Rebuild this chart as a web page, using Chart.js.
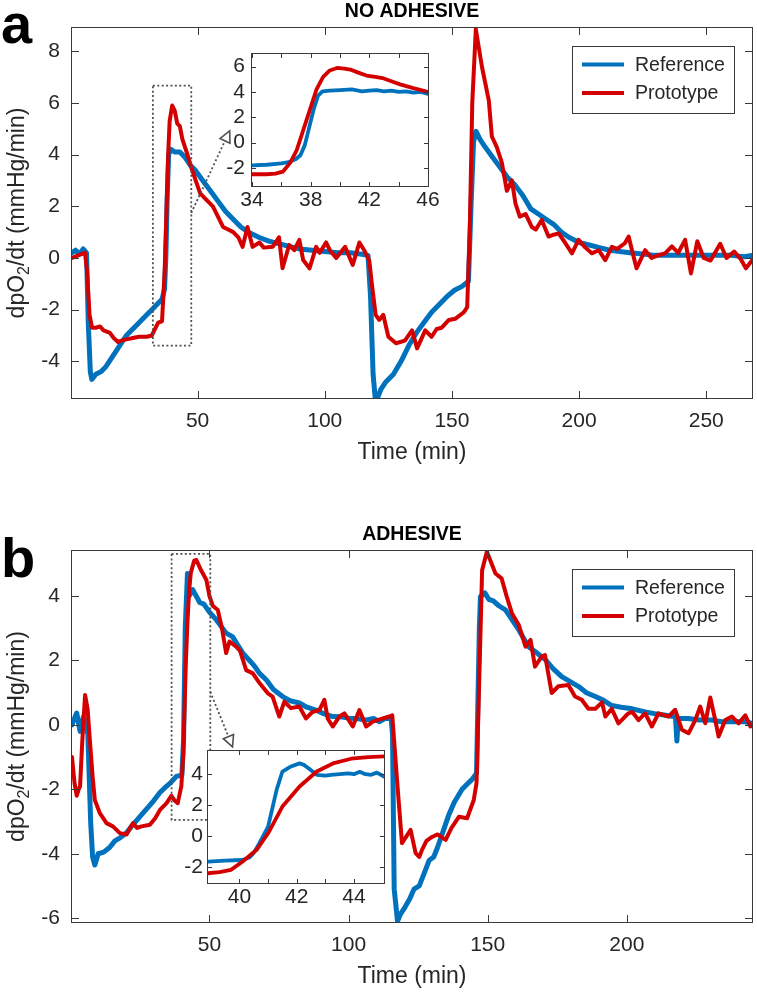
<!DOCTYPE html>
<html><head><meta charset="utf-8">
<script src="https://cdn.jsdelivr.net/npm/chart.js@4/dist/chart.umd.min.js"></script>
<style>
html,body{margin:0;padding:0;background:#fff;}
#wrap{position:relative;width:757px;height:994px;overflow:hidden;background:#fff;}
canvas{position:absolute;}
</style></head><body>
<div id="wrap">
<canvas id="ca" width="757" height="470" style="left:0;top:0;width:757px;height:470px"></canvas>
<canvas id="ia" width="240" height="180" style="left:200px;top:38px;width:240px;height:180px"></canvas>
<canvas id="cb" width="757" height="524" style="left:0;top:470px;width:757px;height:524px"></canvas>
<canvas id="ib" width="245" height="180" style="left:150px;top:735px;width:245px;height:180px"></canvas>
</div>
<script>
// ---------------- text ----------------
const SERIES_NAMES = ['Reference', 'Prototype'];
const PANEL_LETTERS = ['a', 'b'];
const TITLE_A = 'NO ADHESIVE';
const TITLE_B = 'ADHESIVE';
const X_TITLE = 'Time (min)';
const Y_TITLE_PARTS = ['dpO', '2', '/dt (mmHg/min)'];

// ---------------- ticks ----------------
const A_XTICKS = [50, 100, 150, 200, 250];
const A_YTICKS = [-4, -2, 0, 2, 4, 6, 8];
const B_XTICKS = [50, 100, 150, 200];
const B_YTICKS = [-6, -4, -2, 0, 2, 4];
const IA_XTICKS = [34, 36, 38, 40, 42, 44, 46];
const IA_XLABELS = [34, 38, 42, 46];
const IA_YTICKS = [-2, 0, 2, 4, 6];
const IB_XTICKS = [40, 41, 42, 43, 44];
const IB_XLABELS = [40, 42, 44];
const IB_YTICKS = [-2, 0, 2, 4];

// ---------------- panel a data [time (min), dpO2/dt] ----------------
const A_REF = [[0.6,0.2],[2,0.3],[3.5,0.15],[5,0.35],[6.3,0.2],[7,-2.5],[7.8,-4.4],[8.4,-4.7],[10,-4.5],[12,-4.4],
[14,-4.2],[16,-3.9],[18,-3.6],[20,-3.3],[22,-3.0],[24,-2.8],[26,-2.6],[28,-2.4],[30,-2.2],[32,-2.0],
[34,-1.8],[36,-1.6],[37,-1.2],[37.5,0.0],[38,2.2],[38.6,4.0],[39.5,4.2],[41,4.1],[43,4.1],[45,3.9],
[47,3.6],[49,3.4],[52,3.0],[55,2.6],[58,2.2],[61,1.8],[64,1.5],[67,1.2],[70,1.0],[74,0.8],
[78,0.65],[82,0.55],[86,0.45],[90,0.35],[95,0.3],[100,0.25],[105,0.2],[110,0.2],[114,0.15],[117,0.1],
[118,-1.5],[119,-4.5],[120,-5.6],[122,-5.1],[124,-4.8],[127,-4.5],[130,-4.0],[133,-3.4],[136,-2.9],[139,-2.5],
[142,-2.1],[145,-1.8],[148,-1.5],[151,-1.25],[154,-1.1],[156.5,-0.9],[157.5,2.0],[158.5,4.5],[159.5,4.9],[161,4.6],
[163,4.3],[166,3.9],[169,3.5],[172,3.1],[175,2.8],[178,2.4],[181,1.9],[184,1.7],[187,1.5],[190,1.3],
[193,1.0],[196,0.8],[200,0.6],[204,0.5],[208,0.4],[212,0.3],[216,0.25],[220,0.2],[225,0.15],[230,0.1],
[235,0.1],[240,0.1],[245,0.1],[250,0.1],[255,0.1],[260,0.1],[265,0.05],[268,0.1]];

const A_PRO = [[0.6,0.0],[3,0.1],[5.7,0.2],[6.5,-0.5],[7.5,-2.2],[8.5,-2.7],[10,-2.7],[11.6,-2.65],[13,-2.8],[15.5,-2.9],
[17,-3.1],[18.7,-3.25],[20,-3.2],[22,-3.15],[24.5,-3.1],[27,-3.05],[30,-3.05],[32,-3.0],[33.5,-2.7],[34.5,-2.5],
[36,-2.45],[37,-0.6],[38,2.6],[38.5,4.2],[39,5.3],[40,5.9],[41,5.7],[42,5.2],[43,5.1],[44,4.6],
[46,4.0],[47.5,3.5],[49.6,2.9],[51,2.5],[53,2.3],[56,2.0],[58,1.6],[60,1.2],[62,1.1],[64,1.0],
[66,0.8],[67.7,0.43],[69.6,1.2],[71.6,0.43],[74.3,0.6],[76,0.4],[79.5,0.43],[82,0.8],[83.4,-0.4],[86,0.5],
[88,0.3],[90,0.7],[91.5,-0.08],[94,-0.4],[96.6,0.43],[98,0.2],[100.5,0.6],[102,0.3],[104.5,0.0],[108,0.43],
[111,-0.27],[113.6,0.6],[115.5,0.3],[117.5,-0.1],[118.5,-1.0],[120,-2.2],[121.4,-2.4],[123,-2.2],[125,-3.05],[128,-3.3],
[131.5,-3.2],[134.3,-2.8],[136.3,-3.5],[139.5,-2.8],[142,-3.05],[144,-2.75],[146,-2.7],[148.8,-2.4],[151.4,-2.35],[154.7,-2.1],
[156,-1.9],[157,1.0],[158,6.0],[159.4,8.85],[161.8,7.4],[164.5,6.1],[165.7,4.7],[167.6,4.3],[169.6,3.7],[171.6,2.6],
[173.6,3.0],[175,2.1],[176.7,1.6],[179,1.7],[181.4,1.2],[183,1.1],[185.3,1.47],[188,0.83],[190,0.9],[192,0.95],
[194.6,0.57],[197.2,0.18],[199.8,0.7],[202.5,0.4],[205,0.18],[207.7,0.3],[210.3,-0.08],[212.9,0.43],[215,0.35],[218,0.57],
[219.5,0.83],[220.8,0.3],[222.6,-0.4],[226,0.3],[228.5,0.0],[231,0.1],[233.8,0.18],[236.5,0.45],[239,0.2],[241.7,0.7],
[244,-0.6],[246.5,0.65],[249,0.0],[251.7,-0.1],[255.5,0.55],[258,0.0],[261,0.25],[263.6,-0.05],[265.6,-0.4],[268,-0.1]];

// inset a (zoom 34-46 min)
const IA_REF = [[34,-1.8],[35,-1.75],[36,-1.65],[36.5,-1.55],[37,-1.3],[37.3,-1.0],[37.6,-0.2],[37.9,1.2],[38.2,2.6],[38.5,3.7],
[38.8,4.05],[39.3,4.1],[40,4.15],[40.8,4.2],[41.5,4.05],[42,4.1],[42.5,4.15],[43,4.05],[43.5,4.1],[44,4.0],
[44.5,4.05],[45,3.95],[45.5,4.0],[46,3.85]];
const IA_PRO = [[34,-2.5],[35,-2.5],[35.6,-2.45],[36.1,-2.3],[36.6,-1.6],[37.05,-0.6],[37.5,1.0],[37.95,2.6],[38.4,4.2],[38.85,5.2],
[39.3,5.7],[39.8,5.9],[40.3,5.85],[40.7,5.77],[41.2,5.55],[41.8,5.3],[42.4,5.2],[42.9,5.1],[43.5,4.85],[44.1,4.6],
[45,4.3],[46,4.0]];

// ---------------- panel b data ----------------
const B_REF = [[0.6,0.0],[1.5,0.2],[2.3,0.37],[3.5,-0.2],[4.7,0.25],[5.5,0.1],[6.3,-0.3],[7.3,-3.0],[8,-4.1],[8.8,-4.35],
[10,-4.0],[12,-3.95],[14.2,-3.8],[16,-3.6],[18,-3.5],[20.2,-3.35],[22,-3.15],[24,-2.95],[26.1,-2.74],[28,-2.55],
[30,-2.35],[32.2,-2.1],[34,-1.95],[36,-1.8],[38.1,-1.6],[40.1,-1.56],[40.7,-0.45],[41.3,3.0],[42.1,4.7],[42.7,4.0],
[44,4.2],[46.5,3.8],[48,3.75],[50,3.5],[52.5,3.26],[56,2.85],[58.3,2.74],[60,2.5],[62,2.23],[64.4,2.0],
[66,1.85],[68,1.6],[70.4,1.4],[73,1.1],[76.3,0.88],[79,0.75],[82.3,0.68],[85,0.55],[88.3,0.46],[91,0.35],
[94.3,0.26],[97,0.25],[100.2,0.21],[103,0.2],[106.2,0.15],[109,0.2],[111,0.1],[113.4,0.21],[115.3,0.2],[115.8,-0.3],
[116.4,-5.1],[117.6,-6.1],[118.5,-5.9],[120,-5.7],[122,-5.4],[123.5,-5.1],[125.4,-5.0],[127.2,-4.6],[129,-4.2],[130.6,-4.1],
[132,-3.8],[134,-3.3],[136,-2.8],[138,-2.4],[140.8,-2.0],[142.5,-1.85],[144.3,-1.7],[146,-1.5],[147,3.0],[147.4,3.98],
[149,4.1],[150.4,3.9],[152,3.85],[154,3.7],[156.4,3.57],[158.5,3.3],[161.2,2.95],[164.7,2.43],[167.5,2.25],[170.8,2.02],
[173.5,1.75],[176.6,1.5],[179.5,1.35],[182.7,1.19],[185.5,1.0],[188.7,0.88],[191.5,0.77],[194.6,0.6],[198,0.55],[202,0.5],
[206.6,0.4],[210,0.35],[214,0.3],[217.5,0.25],[218,-0.5],[218.5,0.2],[222,0.2],[226,0.15],[230.5,0.15],[234,0.1],
[238,0.1],[242.4,0.1],[245,0.05]];

const B_PRO = [[0.6,-1.0],[1.5,-1.8],[2.3,-2.2],[3.0,-2.0],[3.5,-1.9],[4.3,-0.5],[5.3,0.93],[6.2,0.5],[7.1,-0.57],[8,-1.6],
[8.8,-2.33],[10.6,-2.74],[13,-3.05],[15.3,-3.15],[17.8,-3.36],[20.2,-3.4],[22.5,-3.05],[24,-3.2],[25.6,-3.15],[28.6,-3.1],
[30.5,-2.9],[32.2,-2.64],[34.6,-2.43],[36.3,-2.2],[37.5,-2.35],[38.6,-2.43],[39.9,-1.9],[40.6,-0.9],[41.5,1.9],[42.1,3.2],
[42.7,4.17],[43.3,4.72],[44.5,5.1],[45.3,5.12],[47,4.8],[48.9,4.5],[50,4.0],[51.2,3.7],[53,3.57],[54.5,3.0],
[56,2.23],[57.2,2.59],[59.6,2.43],[61,2.3],[63.2,1.7],[65.6,1.6],[68,1.3],[70.9,0.99],[72.7,0.88],[75.1,0.26],
[76.9,0.72],[79.3,0.52],[82.3,0.57],[84.7,0.2],[87,0.4],[89.5,0.46],[91.3,0.78],[92.5,0.2],[94.3,-0.05],[96.7,0.26],
[98.5,0.36],[101.5,-0.05],[103.9,0.46],[106.3,-0.05],[108.7,0.1],[112.3,0.2],[114.7,0.26],[115.7,0.3],[117.5,-1.8],[119.2,-3.67],
[120.5,-3.5],[122.3,-3.26],[124.1,-3.98],[125.4,-4.1],[126.4,-3.88],[128,-3.6],[130,-3.48],[132,-3.4],[134.9,-3.57],[137,-3.2],
[139.7,-2.85],[142.6,-2.9],[145,-2.33],[146,-1.8],[147,1.5],[148,4.8],[149.7,5.38],[151,5.1],[152.8,4.7],[155,4.55],
[156.8,4.0],[158.7,3.47],[161.2,3.1],[163.6,2.43],[165.4,2.64],[167,1.81],[169.4,2.12],[170.6,2.17],[173,0.99],[175.4,1.2],
[179,1.24],[181.4,0.88],[183.8,0.78],[186.2,0.5],[188.7,0.5],[191.1,0.7],[192.3,0.26],[194.6,0.5],[197,0.05],[199.4,0.26],
[200.6,0.36],[202,0.4],[204.2,0.15],[206.6,0.36],[209,-0.05],[211.4,0.36],[215,0.26],[217.4,0.47],[219.8,-0.15],[222.2,-0.26],
[224.6,0.15],[226.4,0.57],[228.2,0.05],[230,0.85],[231.8,0.15],[233,-0.36],[235.4,0.15],[237.8,0.26],[240.2,0.05],[242.6,0.3],
[244.4,-0.05],[245,0.0]];

// inset b (zoom ~39-45 min)
const IB_REF = [[38.9,-1.67],[39.5,-1.6],[40.1,-1.56],[40.35,-1.4],[40.5,-1.1],[40.7,-0.45],[41.0,0.6],[41.15,1.8],[41.3,3.0],[41.5,4.17],
[41.8,4.5],[42.1,4.7],[42.25,4.6],[42.4,4.4],[42.7,3.96],[43.0,3.9],[43.2,3.96],[43.5,4.0],[43.8,4.05],[44.0,4.0],
[44.2,4.15],[44.4,4.0],[44.6,3.96],[44.8,4.1],[45.05,3.85]];
const IB_PRO = [[38.9,-2.42],[39.3,-2.35],[39.7,-2.2],[40.1,-1.67],[40.6,-0.9],[41.0,0.17],[41.5,1.9],[42.1,3.2],[42.7,4.17],[43.3,4.72],
[43.9,5.0],[44.5,5.1],[45.05,5.15]];

// ---------------- annotations (zoom boxes & arrows, data coords) ----------------
const A_ZOOMBOX = {x0: 32.4, x1: 47.5, y0: -3.39, y1: 6.67};
const A_ARROW = {x0: 47.5, y0: 1.74, x1: 62.6, y1: 4.92};
const B_ZOOMBOX = {x0: 36.4, x1: 50.3, y0: -2.95, y1: 5.31};
const B_ARROW = {x0: 50.3, y0: 1.03, x1: 58.3, y1: -0.68};

// ---------------- styling ----------------
const FONT = "'Liberation Sans', Arial, Helvetica, sans-serif";
const INK = '#262626';
const BLUE = '#0072BD';
const RED = '#D40000';
const TICK_FS = 21;
const LABEL_FS = 23;
const LEGEND_FS = 19.5;
const TITLE_FS = 19.5;
Chart.defaults.font.family = FONT;
Chart.defaults.color = INK;

const toXY = arr => arr.map(p => ({x: p[0], y: p[1]}));

const framePlugin = {
  id: 'frame',
  beforeDraw(chart, args, o) {
    if (o.fillArea) {
      const a = chart.chartArea, ctx = chart.ctx;
      ctx.save(); ctx.fillStyle = '#fff';
      ctx.fillRect(a.left, a.top, a.right - a.left, a.bottom - a.top);
      ctx.restore();
    }
  },
  afterDatasetsDraw(chart, args, o) {
    const ctx = chart.ctx, xs = chart.scales.x, ys = chart.scales.y;
    if (o.zoomBox) {
      const b = o.zoomBox;
      const l = xs.getPixelForValue(b.x0), r = xs.getPixelForValue(b.x1);
      const t = ys.getPixelForValue(b.y1), bt = ys.getPixelForValue(b.y0);
      ctx.save();
      ctx.strokeStyle = '#505050'; ctx.lineWidth = 1.8; ctx.setLineDash([2, 2.4]);
      ctx.strokeRect(l, t, r - l, bt - t);
      if (o.arrow) {
        const ar = o.arrow;
        const x0 = xs.getPixelForValue(ar.x0), y0 = ys.getPixelForValue(ar.y0);
        const x1 = xs.getPixelForValue(ar.x1), y1 = ys.getPixelForValue(ar.y1);
        const dx = x1 - x0, dy = y1 - y0, L = Math.hypot(dx, dy);
        const ux = dx / L, uy = dy / L, hl = 11, hw = 5.5;
        const bx = x1 - ux * hl, by = y1 - uy * hl;
        ctx.beginPath(); ctx.moveTo(x0, y0); ctx.lineTo(bx, by); ctx.stroke();
        ctx.setLineDash([]); ctx.lineWidth = 1.6; ctx.fillStyle = '#fff';
        ctx.beginPath();
        ctx.moveTo(x1, y1);
        ctx.lineTo(bx - uy * hw, by + ux * hw);
        ctx.lineTo(bx + uy * hw, by - ux * hw);
        ctx.closePath(); ctx.fill(); ctx.stroke();
      }
      ctx.restore();
    }
  },
  afterDraw(chart, args, o) {
    const ctx = chart.ctx, a = chart.chartArea, xs = chart.scales.x, ys = chart.scales.y;
    const L = o.tickLen || 6;
    ctx.save();
    ctx.strokeStyle = '#3a3a3a'; ctx.lineWidth = 1;
    ctx.strokeRect(Math.round(a.left) - 0.5, Math.round(a.top) - 0.5, Math.round(a.right - a.left) + 1, Math.round(a.bottom - a.top) + 1);
    ctx.beginPath();
    xs.ticks.forEach(t => {
      const p = Math.round(xs.getPixelForValue(t.value)) + 0.5;
      ctx.moveTo(p, a.bottom); ctx.lineTo(p, a.bottom - L);
      ctx.moveTo(p, a.top); ctx.lineTo(p, a.top + L);
    });
    ys.ticks.forEach(t => {
      const p = Math.round(ys.getPixelForValue(t.value)) + 0.5;
      ctx.moveTo(a.left, p); ctx.lineTo(a.left + L, p);
      ctx.moveTo(a.right, p); ctx.lineTo(a.right - L, p);
    });
    ctx.stroke();

    if (o.legend) {
      const lx = a.right - 180, ly = a.top + 18, lw = 162, lh = 67;
      ctx.fillStyle = '#fff'; ctx.fillRect(lx, ly, lw, lh);
      ctx.strokeStyle = '#3a3a3a'; ctx.lineWidth = 1;
      ctx.strokeRect(Math.round(lx) + 0.5, Math.round(ly) + 0.5, lw, lh);
      ctx.font = LEGEND_FS + 'px ' + FONT; ctx.textBaseline = 'middle'; ctx.textAlign = 'left';
      const rows = [[SERIES_NAMES[0], BLUE, 18.5], [SERIES_NAMES[1], RED, 47]];
      rows.forEach(([txt, col, dy]) => {
        ctx.strokeStyle = col; ctx.lineWidth = 4;
        ctx.beginPath(); ctx.moveTo(lx + 10, ly + dy); ctx.lineTo(lx + 52, ly + dy); ctx.stroke();
        ctx.fillStyle = INK; ctx.fillText(txt, lx + 63, ly + dy + 1);
      });
    }
    if (o.texts) {
      const cx = (a.left + a.right) / 2;
      ctx.fillStyle = '#000';
      ctx.font = 'bold 56px ' + FONT; ctx.textAlign = 'left'; ctx.textBaseline = 'alphabetic';
      ctx.fillText(o.letter, 1, a.top + o.letterDy);
      ctx.font = 'bold ' + TITLE_FS + 'px ' + FONT; ctx.textAlign = 'center';
      ctx.fillText(o.title, cx, a.top - 11);
      ctx.fillStyle = INK;
      ctx.font = LABEL_FS + 'px ' + FONT; ctx.textBaseline = 'middle';
      ctx.fillText(X_TITLE, cx, a.bottom + 55);
      // y title with subscript
      const cy = (a.top + a.bottom) / 2;
      ctx.save();
      ctx.translate(24, cy); ctx.rotate(-Math.PI / 2);
      ctx.textAlign = 'left'; ctx.textBaseline = 'alphabetic';
      const fMain = LABEL_FS + 'px ' + FONT, fSub = Math.round(LABEL_FS * 0.7) + 'px ' + FONT;
      ctx.font = fMain; const w1 = ctx.measureText(Y_TITLE_PARTS[0]).width;
      const w3 = ctx.measureText(Y_TITLE_PARTS[2]).width;
      ctx.font = fSub; const w2 = ctx.measureText(Y_TITLE_PARTS[1]).width;
      let x = -(w1 + w2 + w3) / 2;
      ctx.font = fMain; ctx.fillText(Y_TITLE_PARTS[0], x, 0); x += w1;
      ctx.font = fSub; ctx.fillText(Y_TITLE_PARTS[1], x, 5); x += w2;
      ctx.font = fMain; ctx.fillText(Y_TITLE_PARTS[2], x, 0);
      ctx.restore();
    }
    ctx.restore();
  }
};

function makeChart(id, cfg) {
  const fixTicks = list => (s => { s.ticks = list.map(v => ({value: v})); });
  const zeroPad = s => { s.paddingLeft = 0; s.paddingRight = 0; s.paddingTop = 0; s.paddingBottom = 0; };
  return new Chart(document.getElementById(id), {
    type: 'line',
    data: {
      datasets: [
        {label: SERIES_NAMES[1], data: toXY(cfg.pro), borderColor: RED, borderWidth: cfg.redW, order: 0},
        {label: SERIES_NAMES[0], data: toXY(cfg.ref), borderColor: BLUE, borderWidth: cfg.blueW, order: 1}
      ]
    },
    options: {
      responsive: false, animation: false, devicePixelRatio: 1,
      parsing: false, normalized: true,
      elements: {point: {radius: 0}, line: {tension: 0, borderJoinStyle: 'round', borderCapStyle: 'round'}},
      layout: {padding: cfg.pad},
      scales: {
        x: {
          type: 'linear', position: 'bottom', min: cfg.xmin, max: cfg.xmax,
          grid: {display: false, drawTicks: false}, border: {display: false},
          afterBuildTicks: fixTicks(cfg.xticks),
          afterFit: s => { s.height = cfg.xH; zeroPad(s); },
          ticks: {autoSkip: false, maxRotation: 0, padding: cfg.xPad, color: INK,
                  font: {size: TICK_FS},
                  callback: v => (cfg.xlabels ? (cfg.xlabels.includes(v) ? String(v) : '') : String(v))}
        },
        y: {
          type: 'linear', position: 'left', min: cfg.ymin, max: cfg.ymax,
          grid: {display: false, drawTicks: false}, border: {display: false},
          afterBuildTicks: fixTicks(cfg.yticks),
          afterFit: s => { s.width = cfg.yW; zeroPad(s); },
          ticks: {autoSkip: false, padding: cfg.yPad, color: INK, font: {size: TICK_FS},
                  callback: v => String(v)}
        }
      },
      plugins: {
        legend: {display: false}, tooltip: {enabled: false}, title: {display: false},
        frame: cfg.frame
      }
    },
    plugins: [framePlugin]
  });
}

// Panel a main
makeChart('ca', {
  ref: A_REF, pro: A_PRO, blueW: 5, redW: 4,
  xmin: 0.6, xmax: 268, ymin: -5.42, ymax: 8.9, xticks: A_XTICKS, yticks: A_YTICKS,
  pad: {top: 28, right: 5, left: 0, bottom: 0}, xH: 72, yW: 72, xPad: 11, yPad: 12,
  frame: {tickLen: 7, legend: true, texts: true, letter: PANEL_LETTERS[0], letterDy: 15, title: TITLE_A,
          zoomBox: A_ZOOMBOX, arrow: A_ARROW}
});
// Panel a inset
makeChart('ia', {
  ref: IA_REF, pro: IA_PRO, blueW: 3.8, redW: 3.8,
  xmin: 34, xmax: 46, ymin: -3.43, ymax: 7.0, xticks: IA_XTICKS, xlabels: IA_XLABELS, yticks: IA_YTICKS,
  pad: {top: 16, right: 12, left: 0, bottom: 0}, xH: 32, yW: 52, xPad: 2, yPad: 7,
  frame: {tickLen: 4, fillArea: true}
});
// Panel b main
makeChart('cb', {
  ref: B_REF, pro: B_PRO, blueW: 5, redW: 4,
  xmin: 0.6, xmax: 245, ymin: -6.12, ymax: 5.4, xticks: B_XTICKS, yticks: B_YTICKS,
  pad: {top: 81, right: 5, left: 0, bottom: 0}, xH: 72, yW: 72, xPad: 11, yPad: 12,
  frame: {tickLen: 7, legend: true, texts: true, letter: PANEL_LETTERS[1], letterDy: 26, title: TITLE_B,
          zoomBox: B_ZOOMBOX, arrow: B_ARROW}
});
// Panel b inset
makeChart('ib', {
  ref: IB_REF, pro: IB_PRO, blueW: 3.8, redW: 3.8,
  xmin: 38.9, xmax: 45.05, ymin: -3.05, ymax: 5.5, xticks: IB_XTICKS, xlabels: IB_XLABELS, yticks: IB_YTICKS,
  pad: {top: 16, right: 11, left: 0, bottom: 0}, xH: 32, yW: 58, xPad: 2, yPad: 5,
  frame: {tickLen: 4, fillArea: true}
});
</script>
</body></html>
